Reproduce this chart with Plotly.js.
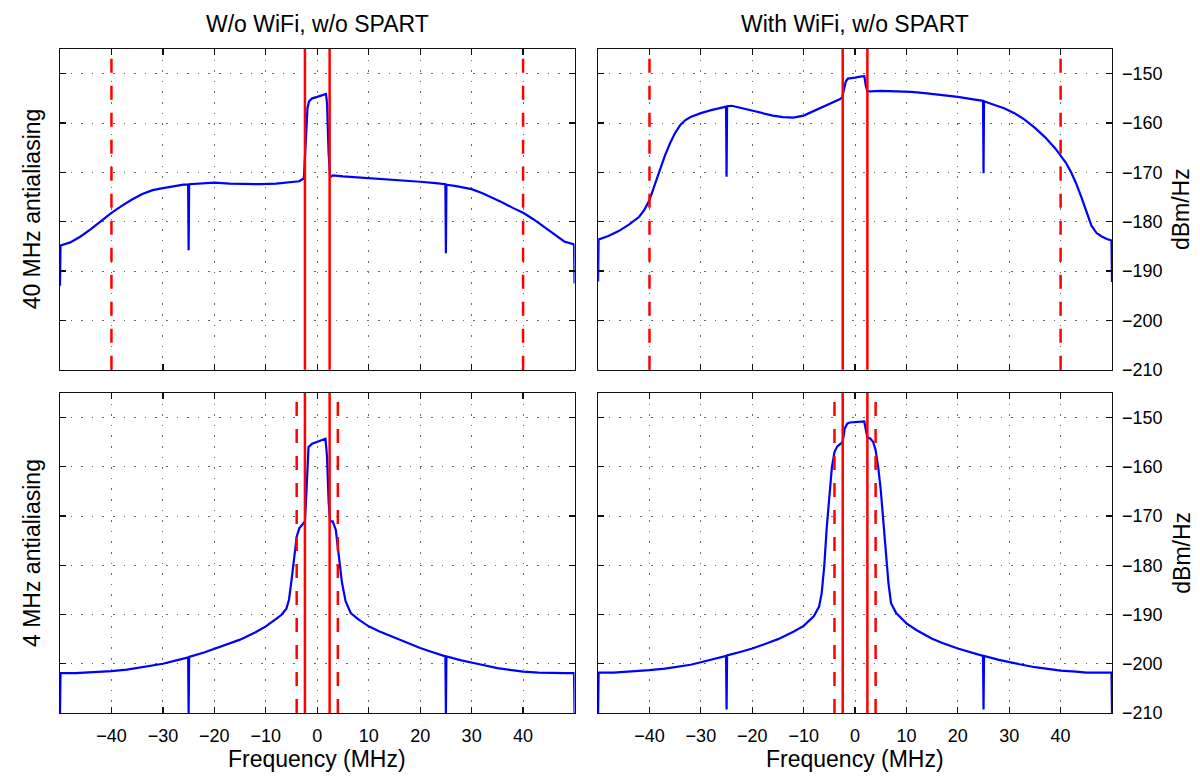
<!DOCTYPE html>
<html>
<head>
<meta charset="utf-8">
<script src="https://cdn.plot.ly/plotly-3.0.1.min.js"></script>
<style>html,body{margin:0;padding:0;background:#fff;}#chart{width:1200px;height:780px;}</style>
</head>
<body>
<div id="chart"></div>
<script>
// ---- Data ----
const columnTitles = ["W/o WiFi, w/o SPART", "With WiFi, w/o SPART"];
const rowTitles = ["40 MHz antialiasing", "4 MHz antialiasing"];
const unitTitle = "dBm/Hz";
const xTitle = "Frequency (MHz)";
const xTickVals = [-40, -30, -20, -10, 0, 10, 20, 30, 40];
const yTickVals = [-210, -200, -190, -180, -170, -160, -150];
const xRange = [-50, 50];
const yRange = [-210, -145];

// solid red lines (signal band edges) and dashed red lines (antialiasing filter edges)
const bandEdges = [-2.4, 2.4];
const filterEdgesTop = [-40, 40];
const filterEdgesBottom = [-4, 4];

// Top-left: 40 MHz antialiasing, without WiFi
const tlX = [-50, -49.9, -48, -46, -44, -42, -40, -38, -36, -34, -32, -30, -28, -26, -25.1, -25, -24.9, -22, -20, -17, -14, -11, -8, -5, -3.5, -2.6, -2.3, -1.9, -1.6, -1, 0, 1, 1.7, 1.9, 2.2, 2.5, 3, 5, 8, 11, 14, 17, 20, 23, 24.9, 25, 25.1, 27, 30, 32, 34, 36, 38, 40, 42, 44, 46, 48, 49.9, 50];
const tlY = [-193, -184.8, -184.2, -183, -181.5, -179.8, -178.2, -176.8, -175.5, -174.4, -173.6, -173.2, -172.8, -172.5, -172.5, -185.8, -172.4, -172.2, -172.1, -172.3, -172.4, -172.4, -172.3, -172.0, -171.8, -171.2, -166, -157, -155.6, -155.0, -154.7, -154.4, -154.1, -156, -166, -171, -170.6, -170.8, -171.0, -171.2, -171.4, -171.6, -171.9, -172.2, -172.4, -186.4, -172.5, -172.8, -173.4, -174.2, -175.1, -176.1, -177.2, -178.2, -179.5, -181.0, -182.5, -184.0, -184.6, -192.5];

// Top-right: 40 MHz antialiasing, with WiFi
const trX = [-50, -49.9, -48, -46, -44, -42, -41, -40, -39, -38, -37, -36, -35, -34, -33, -32, -30, -28, -26, -25.1, -25, -24.9, -24, -22, -20, -18, -16, -14, -12, -10, -8, -6, -4, -3, -2.5, -2.2, -1.8, -1.4, -1, 0, 1, 1.8, 2.1, 2.4, 3, 5, 8, 11, 14, 17, 20, 23, 24.9, 25, 25.1, 27, 29, 31, 33, 35, 37, 39, 40, 41, 42, 43, 44, 45, 46, 47, 48, 49, 49.9, 50];
const trY = [-192.1, -183.6, -182.9, -181.9, -180.6, -179.0, -177.6, -175.6, -172.6, -169.5, -166.6, -164.1, -162.0, -160.4, -159.4, -158.8, -158.0, -157.4, -156.9, -156.7, -170.9, -156.6, -156.5, -157.0, -157.6, -158.1, -158.5, -158.8, -158.9, -158.5, -157.6, -156.7, -155.8, -155.2, -154.8, -153.5, -151.6, -151.0, -150.9, -150.8, -150.6, -150.5, -152.5, -153.6, -153.6, -153.5, -153.6, -153.7, -154.0, -154.3, -154.7, -155.2, -155.5, -170.2, -155.6, -156.3, -157.0, -158.0, -159.3, -161.0, -162.9, -165.2, -166.5, -168.0, -169.9, -172.2, -174.9, -178.0, -180.8, -182.3, -183.0, -183.5, -183.8, -192.2];

// Bottom-left: 4 MHz antialiasing, without WiFi
const blX = [-50, -49.9, -47, -45, -42, -40, -37, -35, -32, -30, -27, -25.1, -25, -24.9, -22, -20, -17, -15, -12, -10, -8, -7, -6, -5.5, -5, -4.5, -4, -3.5, -2.8, -2.4, -2.1, -1.7, -1, 0, 1, 1.6, 1.9, 2.2, 2.5, 3, 3.6, 4.2, 4.8, 5.5, 6.5, 8, 10, 12, 15, 17, 20, 22, 24.9, 25, 25.1, 28, 30, 32, 35, 38, 40, 43, 45, 48, 49.9, 50];
const blY = [-210, -201.9, -201.9, -201.8, -201.7, -201.5, -201.2, -200.9, -200.4, -200.0, -199.2, -198.7, -210, -198.6, -197.7, -197.0, -195.9, -195.1, -193.6, -192.4, -190.9, -190.1, -188.8, -187.0, -183.0, -178.2, -174.2, -172.5, -171.6, -171.1, -165, -156.0, -155.3, -154.9, -154.5, -154.3, -158, -167, -171.1, -171.1, -172.8, -178.2, -183.5, -187.3, -189.7, -191.0, -192.4, -193.4, -194.7, -195.6, -196.8, -197.5, -198.5, -210, -198.5, -199.3, -199.7, -200.2, -200.9, -201.3, -201.6, -201.8, -201.9, -201.9, -201.9, -210];

// Bottom-right: 4 MHz antialiasing, with WiFi
const brX = [-50, -49.9, -47, -45, -42, -40, -37, -35, -32, -30, -27, -25.1, -25, -24.9, -22, -20, -17, -15, -12, -10, -8, -7, -6.5, -6, -5.5, -5, -4.5, -4, -3.5, -2.8, -2.4, -2.0, -1.5, -1, 0, 1, 1.5, 1.8, 2.1, 2.4, 3, 3.5, 4, 4.5, 5, 5.5, 6, 6.5, 7, 8, 10, 12, 15, 17, 20, 22, 24.9, 25, 25.1, 28, 30, 32, 35, 38, 40, 43, 45, 48, 49.9, 50];
const brY = [-210, -201.8, -201.8, -201.7, -201.5, -201.3, -201.0, -200.7, -200.2, -199.7, -198.9, -198.4, -209.3, -198.3, -197.5, -196.9, -195.8, -195.0, -193.5, -192.3, -190.3, -188.4, -185.7, -180.3, -172.2, -165.5, -160.0, -157.0, -155.9, -155.3, -154.9, -152.2, -151.2, -151.0, -150.9, -150.8, -150.7, -150.8, -152.5, -154.0, -154.3, -154.9, -156.6, -160.0, -164.7, -170.8, -177.6, -183.6, -187.7, -189.7, -191.8, -193.2, -194.9, -195.8, -196.9, -197.5, -198.4, -209.3, -198.4, -199.2, -199.7, -200.1, -200.7, -201.1, -201.4, -201.6, -201.8, -201.8, -201.8, -210];

// ---- Styling ----
const FONT = "Liberation Sans, Arial, Helvetica, sans-serif";
const BLUE = "#0000ff";
const RED = "#ff0000";

const curves = [
  {x: tlX, y: tlY, xa: "x", ya: "y"},
  {x: trX, y: trY, xa: "x2", ya: "y2"},
  {x: blX, y: blY, xa: "x3", ya: "y3"},
  {x: brX, y: brY, xa: "x4", ya: "y4"}
];
const traces = curves.map(c => ({
  type: "scatter", mode: "lines", x: c.x, y: c.y, xaxis: c.xa, yaxis: c.ya,
  line: {color: BLUE, width: 2.2}, hoverinfo: "skip", showlegend: false
}));

const GRID = {showgrid: true, gridcolor: "#6a6a6a", griddash: "1.6px,9px", gridwidth: 1};

function xAxis(domain, anchor, labels) {
  return Object.assign({
    domain: domain, anchor: anchor, range: xRange, tickvals: xTickVals,
    showticklabels: labels, ticks: "inside", ticklen: 6, tickwidth: 1.2, tickcolor: "#111",
    showline: true, linecolor: "#111", linewidth: 1.3, mirror: "ticks",
    zeroline: false, tickfont: {family: FONT, size: 18, color: "#000"},
    ticklabelstandoff: 6, fixedrange: true
  }, GRID);
}
function yAxis(domain, anchor, labels, side) {
  return Object.assign({
    domain: domain, anchor: anchor, range: yRange, tickvals: yTickVals,
    showticklabels: labels, side: side, ticks: "inside", ticklen: 6, tickwidth: 1.2, tickcolor: "#111",
    showline: true, linecolor: "#111", linewidth: 1.3, mirror: "ticks",
    zeroline: false, tickfont: {family: FONT, size: 18, color: "#000"},
    ticklabelstandoff: 5, fixedrange: true
  }, GRID);
}

// plot area: left column x 60..575, right column x 598..1112; rows y 49..370 and 393..713
const colL = [0, 0.4891];
const colR = [0.5115, 1];
const rowT = [0.517, 1];
const rowB = [0, 0.482];

const shapes = [];
function vline(xv, xref, yref, dash) {
  shapes.push({type: "line", xref: xref, yref: yref + " domain", x0: xv, x1: xv, y0: 0, y1: 1,
    line: {color: RED, width: 2.5, dash: dash}, layer: "above"});
}
[["x", "y"], ["x2", "y2"]].forEach(([xr, yr]) => {
  filterEdgesTop.forEach(v => vline(v, xr, yr, "14px,13px"));
  bandEdges.forEach(v => vline(v, xr, yr, "solid"));
});
[["x3", "y3"], ["x4", "y4"]].forEach(([xr, yr]) => {
  filterEdgesBottom.forEach(v => vline(v, xr, yr, "14px,13px"));
  bandEdges.forEach(v => vline(v, xr, yr, "solid"));
});

const annFont = {family: FONT, size: 23, color: "#000"};
const annotations = [
  {text: columnTitles[0], xref: "paper", yref: "paper", x: (colL[0] + colL[1]) / 2, y: 1.038, xanchor: "center", yanchor: "middle", showarrow: false, font: annFont},
  {text: columnTitles[1], xref: "paper", yref: "paper", x: (colR[0] + colR[1]) / 2, y: 1.038, xanchor: "center", yanchor: "middle", showarrow: false, font: annFont},
  {text: rowTitles[0], xref: "paper", yref: "paper", x: -0.0266, y: (rowT[0] + rowT[1]) / 2, xanchor: "center", yanchor: "middle", textangle: -90, showarrow: false, font: annFont},
  {text: rowTitles[1], xref: "paper", yref: "paper", x: -0.0266, y: (rowB[0] + rowB[1]) / 2, xanchor: "center", yanchor: "middle", textangle: -90, showarrow: false, font: annFont},
  {text: unitTitle, xref: "paper", yref: "paper", x: 1.0663, y: (rowT[0] + rowT[1]) / 2, xanchor: "center", yanchor: "middle", textangle: -90, showarrow: false, font: annFont},
  {text: unitTitle, xref: "paper", yref: "paper", x: 1.0663, y: (rowB[0] + rowB[1]) / 2, xanchor: "center", yanchor: "middle", textangle: -90, showarrow: false, font: annFont},
  {text: xTitle, xref: "paper", yref: "paper", x: (colL[0] + colL[1]) / 2, y: -0.069, xanchor: "center", yanchor: "middle", showarrow: false, font: annFont},
  {text: xTitle, xref: "paper", yref: "paper", x: (colR[0] + colR[1]) / 2, y: -0.069, xanchor: "center", yanchor: "middle", showarrow: false, font: annFont}
];

const layout = {
  width: 1200, height: 780,
  margin: {l: 60, r: 88, t: 49, b: 67},
  paper_bgcolor: "#fff", plot_bgcolor: "#fff",
  font: {family: FONT, size: 18, color: "#000"},
  showlegend: false,
  xaxis: xAxis(colL, "y", false),
  yaxis: yAxis(rowT, "x", false, "left"),
  xaxis2: xAxis(colR, "y2", false),
  yaxis2: yAxis(rowT, "x2", true, "right"),
  xaxis3: xAxis(colL, "y3", true),
  yaxis3: yAxis(rowB, "x3", false, "left"),
  xaxis4: xAxis(colR, "y4", true),
  yaxis4: yAxis(rowB, "x4", true, "right"),
  shapes: shapes,
  annotations: annotations
};

Plotly.newPlot("chart", traces, layout, {displayModeBar: false, staticPlot: true});
</script>
</body>
</html>
